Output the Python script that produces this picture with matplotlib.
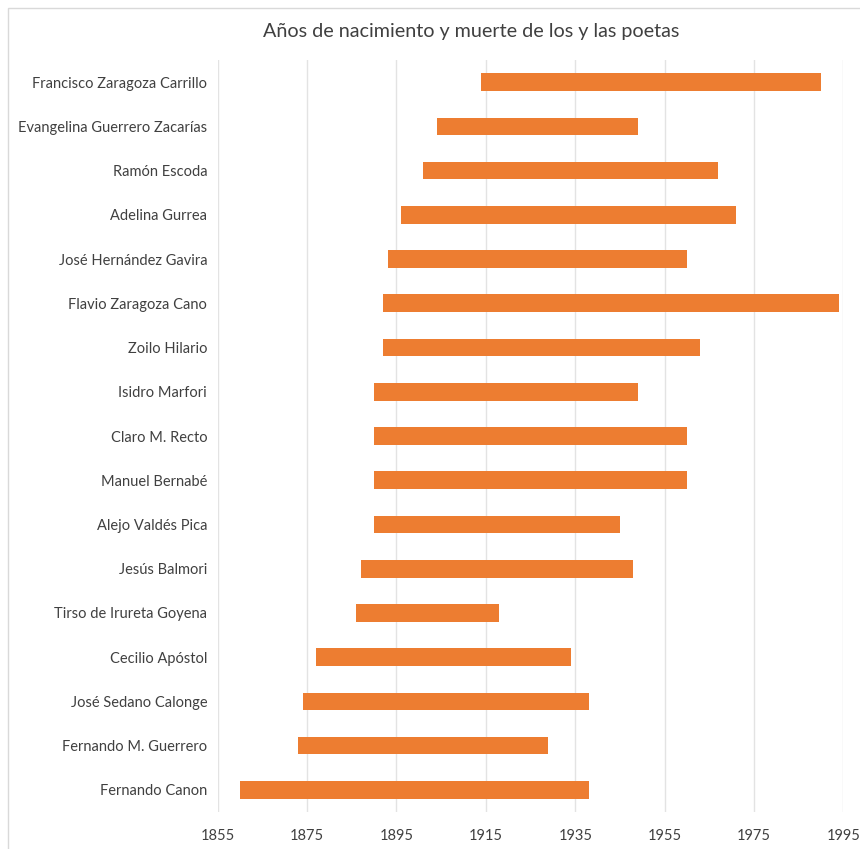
import matplotlib
matplotlib.use("Agg")
import matplotlib.pyplot as plt

poets = ["Francisco Zaragoza Carrillo", "Evangelina Guerrero Zacarías", "Ramón Escoda",
         "Adelina Gurrea", "José Hernández Gavira", "Flavio Zaragoza Cano", "Zoilo Hilario",
         "Isidro Marfori", "Claro M. Recto", "Manuel Bernabé", "Alejo Valdés Pica",
         "Jesús Balmori", "Tirso de Irureta Goyena", "Cecilio Apóstol", "José Sedano Calonge",
         "Fernando M. Guerrero", "Fernando Canon"]
birth = [1914, 1904, 1901, 1896, 1893, 1892, 1892, 1890, 1890, 1890, 1890,
         1887, 1886, 1877, 1874, 1873, 1860]
death = [1990, 1949, 1967, 1971, 1960, 1994, 1963, 1949, 1960, 1960, 1945,
         1948, 1918, 1934, 1938, 1929, 1938]
xticks = [1855, 1875, 1895, 1915, 1935, 1955, 1975, 1995]
title = "Años de nacimiento y muerte de los y las poetas"

plt.rcParams['font.family'] = ['Lato', 'DejaVu Sans']
text_color = '#404040'

fig = plt.figure(figsize=(8.6, 8.49), dpi=100)
ax = fig.add_axes([0.2531, 0.0436, 0.9808 - 0.2531, 0.9293 - 0.0436])

ypos = list(range(len(poets)))
durations = [d - b for b, d in zip(birth, death)]
ax.barh(ypos, durations, left=birth, height=0.4, color='#ED7D31', zorder=3)

ax.set_xlim(1855, 1995)
ax.set_xticks(xticks)
ax.set_xticklabels([str(t) for t in xticks])
ax.set_yticks(ypos)
ax.set_yticklabels(poets)
ax.set_ylim(len(poets) - 0.5, -0.5)

ax.grid(axis='x', color='#E3E3E3', linewidth=1, zorder=0)
for s in ax.spines.values():
    s.set_visible(False)
ax.tick_params(axis='both', length=0, labelsize=10.5, colors=text_color)
ax.tick_params(axis='y', pad=7.5)
ax.tick_params(axis='x', pad=12)

fig.text(0.548, 1 - 31 / 849, title, ha='center', va='center', fontsize=14.2, color=text_color)

# chart border
border = plt.Rectangle((8 / 860, -0.01), 1.0, 1 - 8 / 849 + 0.01, transform=fig.transFigure,
                       fill=False, edgecolor='#D9D9D9', linewidth=1)
fig.patches.append(border)

fig.savefig("out.png", dpi=100)
